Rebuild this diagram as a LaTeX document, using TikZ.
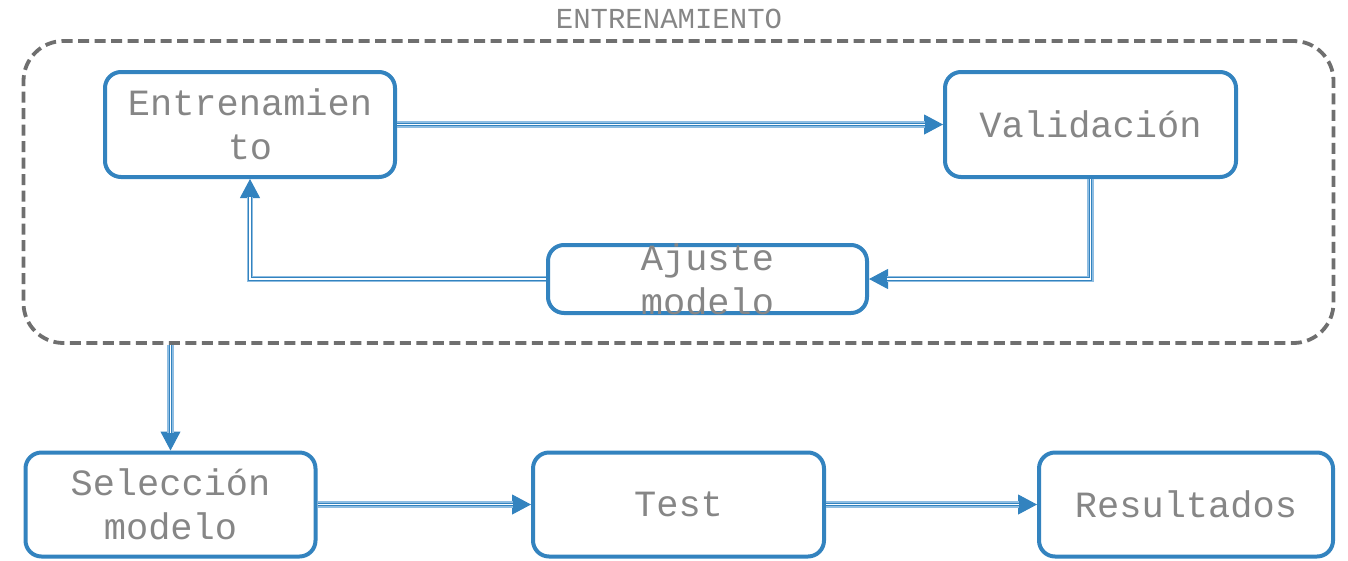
\documentclass[tikz,border=0pt]{standalone}
\usepackage{fontspec}
\setmonofont{Liberation Mono}
\usetikzlibrary{arrows.meta,calc}
\definecolor{mblue}{HTML}{3383BF}
\definecolor{lblue}{HTML}{8EBDE2}
\definecolor{dgray}{HTML}{6F6F6F}
\definecolor{tgray}{HTML}{868686}
\tikzset{
  boxnode/.style={draw=mblue, line width=4pt, rounded corners=16pt, fill=white, inner sep=0pt},
  txt/.style={font=\ttfamily\fontsize{37}{44}\selectfont, text=tgray, align=center, inner sep=0pt},
  ttl/.style={font=\ttfamily\fontsize{29}{34}\selectfont, text=tgray, inner sep=0pt},
  contnode/.style={draw=dgray, line width=3.8pt, dash pattern=on 11pt off 5.5pt, rounded corners=40pt, inner sep=0pt},
  arrline/.style={draw=mblue, line width=1pt, -{Triangle[length=19pt,width=20pt]}},
  lline/.style={draw=lblue, line width=6.5pt, shorten >=18pt},
  dline/.style={draw=mblue, double=white, line width=1.1pt, double distance=1.3pt, shorten >=18pt}
}
\newcommand\myconn[1]{\draw[arrline] #1; \draw[lline] #1; \draw[dline] #1;}
\begin{document}
\begin{tikzpicture}[x=1pt,y=-1pt]
\useasboundingbox (0,0) rectangle (1348,560);
\node[contnode, minimum width=1310pt, minimum height=302pt] (cont) at (678.5,192) {};
\node[ttl, anchor=base] (title) at (669,28) {ENTRENAMIENTO};
\node[boxnode, minimum width=290pt, minimum height=105pt, label={[txt]center:Entrenamien\\to}] (ent) at (250,124.5) {};
\node[boxnode, minimum width=291pt, minimum height=105pt, label={[txt]center:Validación}] (val) at (1090.5,124.5) {};
\node[boxnode, minimum width=319pt, minimum height=68pt, label={[txt]center:Ajuste\\modelo}] (aj) at (707.5,279) {};
\node[boxnode, minimum width=290pt, minimum height=104pt, label={[txt]center:Selección\\modelo}] (sel) at (170.5,504.5) {};
\node[boxnode, minimum width=291pt, minimum height=104pt, label={[txt]center:Test}] (test) at (678.5,504.5) {};
\node[boxnode, minimum width=294pt, minimum height=104pt, label={[txt]center:Resultados}] (res) at (1186,504.5) {};
\myconn{(ent.east) -- (val.west)}
\myconn{(val.south) |- (aj.east)}
\myconn{(aj.west) -| (ent.south)}
\myconn{(sel.north |- cont.south) -- (sel.north)}
\myconn{(sel.east) -- (test.west)}
\myconn{(test.east) -- (res.west)}
\end{tikzpicture}
\end{document}
